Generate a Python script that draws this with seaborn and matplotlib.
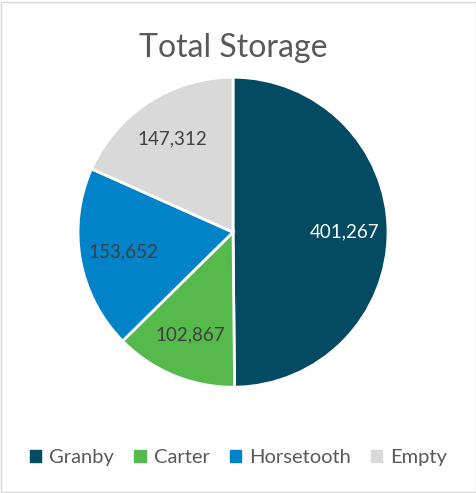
import matplotlib.pyplot as plt
import matplotlib.patches as mpatches
import seaborn as sns

sns.set_theme(style="white")
plt.rcParams['font.family'] = ['Lato', 'DejaVu Sans']

# Data
reservoirs = ['Granby', 'Carter', 'Horsetooth', 'Empty']
storage = [401267, 102867, 153652, 147312]

colors = sns.color_palette(['#034B63', '#56B94B', '#0083C8', '#D9D9D9'])
label_colors = ['white', '#404040', '#404040', '#404040']

fig = plt.figure(figsize=(4.77, 4.93), dpi=100)
ax = fig.add_axes([0.4885 - 0.325, 0.529 - 0.3144, 0.65, 0.6288])

wedges, texts, autotexts = ax.pie(
    storage, colors=colors, startangle=90, counterclock=False,
    autopct=lambda p: f'{p * sum(storage) / 100:,.0f}', pctdistance=0.72,
    wedgeprops=dict(edgecolor='white', linewidth=2))
for t, c in zip(autotexts, label_colors):
    t.set_color(c)
    t.set_fontsize(13.5)
ax.set_xlim(-1, 1)
ax.set_ylim(-1, 1)
ax.set_aspect('equal')

fig.text(0.4885, 0.902, 'Total Storage', ha='center', va='center',
         fontsize=23, color='#595959')

handles = [mpatches.Patch(color=c, label=l) for c, l in zip(colors, reservoirs)]
fig.legend(handles=handles, loc='center', bbox_to_anchor=(0.5, 0.071), ncol=4,
           frameon=False, fontsize=14.5, labelcolor='#595959',
           handlelength=0.55, handleheight=0.55, handletextpad=0.4, columnspacing=1.0)

# chart frame
fig.patches.append(mpatches.Rectangle((0.002, 0.002), 0.996, 0.994, transform=fig.transFigure,
                                      fill=False, edgecolor='#D9D9D9', linewidth=1))

fig.savefig('out.png', dpi=100)
